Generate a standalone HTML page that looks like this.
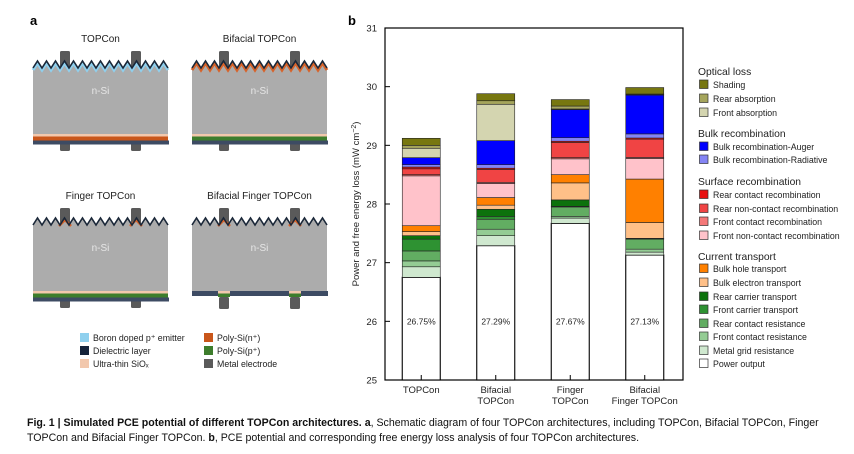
<!DOCTYPE html>
<html><head><meta charset="utf-8"><style>
html,body{margin:0;padding:0;background:#fff;width:854px;height:454px;overflow:hidden;font-family:"Liberation Sans",sans-serif}
svg{position:absolute;left:0;top:0}
.cap{position:absolute;left:27px;top:416px;width:820px;font-size:10.6px;line-height:15px;color:#111}
</style></head><body>
<svg id="fig" width="854" height="454" viewBox="0 0 854 454">
<g id="panelA"></g>
<g id="panelB"></g>
<g id="legendB"></g>
</svg>
<div class="cap"><b>Fig. 1 | Simulated PCE potential of different TOPCon architectures. a</b>, Schematic diagram of four TOPCon architectures, including TOPCon, Bifacial TOPCon, Finger TOPCon and Bifacial Finger TOPCon. <b>b</b>, PCE potential and corresponding free energy loss analysis of four TOPCon architectures.</div>
<script>
const NS="http://www.w3.org/2000/svg";
function mk(parent,tag,attrs,txt){const e=document.createElementNS(NS,tag);for(const k in attrs)e.setAttribute(k,attrs[k]);if(txt!==undefined)e.textContent=txt;parent.appendChild(e);return e;}

// ---------- Chart data ----------
const categories=["TOPCon","Bifacial\nTOPCon","Finger\nTOPCon","Bifacial\nFinger TOPCon"];
const powerOutput=[26.75,27.29,27.67,27.13];
const powerLabels=["26.75%","27.29%","27.67%","27.13%"];
const metalGrid=[0.18,0.17,0.09,0.05];
const frontContactRes=[0.10,0.11,0.03,0.05];
const rearContactRes=[0.17,0.17,0.16,0.17];
const frontCarrier=[0.20,0.05,0.01,0.005];
const rearCarrier=[0.06,0.12,0.11,0.01];
const bulkElectron=[0.07,0.07,0.29,0.27];
const bulkHole=[0.10,0.13,0.14,0.74];
const frontNonContactRec=[0.85,0.24,0.27,0.35];
const frontContactRec=[0.02,0.02,0.02,0.02];
const rearNonContactRec=[0.10,0.22,0.26,0.31];
const rearContactRec=[0.03,0.02,0.02,0.02];
const bulkRadiative=[0.04,0.06,0.06,0.07];
const bulkAuger=[0.12,0.41,0.48,0.66];
const frontAbsorption=[0.16,0.62,0.01,0.01];
const rearAbsorption=[0.05,0.06,0.05,0.01];
const shading=[0.12,0.12,0.11,0.11];
const yTicks=[25,26,27,28,29,30,31];

const series=[
 ["metal-grid-resistance",metalGrid,"#cfe8cf"],
 ["front-contact-resistance",frontContactRes,"#94cc94"],
 ["rear-contact-resistance",rearContactRes,"#62ad62"],
 ["front-carrier-transport",frontCarrier,"#2e9232"],
 ["rear-carrier-transport",rearCarrier,"#0c720c"],
 ["bulk-electron-transport",bulkElectron,"#ffc088"],
 ["bulk-hole-transport",bulkHole,"#ff8000"],
 ["front-non-contact-recombination",frontNonContactRec,"#ffc2ca"],
 ["front-contact-recombination",frontContactRec,"#f47878"],
 ["rear-non-contact-recombination",rearNonContactRec,"#f04444"],
 ["rear-contact-recombination",rearContactRec,"#e81010"],
 ["bulk-recombination-radiative",bulkRadiative,"#8484f4"],
 ["bulk-recombination-auger",bulkAuger,"#0000ff"],
 ["front-absorption",frontAbsorption,"#d4d5b0"],
 ["rear-absorption",rearAbsorption,"#a5a55c"],
 ["shading",shading,"#777710"]
];

const X0=385,X1=683,Y0=380,Y1=28,yMin=25,yMax=31;
const yS=v=>Y0-(v-yMin)/(yMax-yMin)*(Y0-Y1);
const xS=i=>X0+(X1-X0)*(i+0.5)/categories.length - 1;
const BW=38;

const B=document.getElementById('panelB');
mk(B,'text',{x:348,y:25,'font-size':13,'font-weight':'bold',fill:'#000'},'b');
const frame=mk(B,'rect',{x:X0,y:Y1,width:X1-X0,height:Y0-Y1,fill:'none',stroke:'#000','stroke-width':1.2});


yTicks.forEach(t=>{
 const y=yS(t);
 const l=mk(B,'line',{x1:X0,x2:X0+5,y1:y,y2:y,stroke:'#000','stroke-width':1});
 
 
 const tx=mk(B,'text',{x:X0-8,y:y+3.5,'font-size':9.5,'text-anchor':'end',fill:'#222'},String(t));
 
 
});
const yt=mk(B,'text',{x:0,y:0,'font-size':9.5,'text-anchor':'middle',fill:'#222',transform:'translate(359,204) rotate(-90)'});


yt.innerHTML='Power and free energy loss (mW cm<tspan dy="-3" font-size="7">−2</tspan><tspan dy="3">)</tspan>';

categories.forEach((c,i)=>{
 const cx=xS(i);
 const g=mk(B,'g',{});
 
 
 let base=yMin;
 const p=mk(g,'rect',{x:cx-BW/2,y:yS(powerOutput[i]),width:BW,height:yS(base)-yS(powerOutput[i]),fill:'#fff',stroke:'#000','stroke-width':1.1});
 
 
 base=powerOutput[i];
 series.forEach(s=>{
  const v=s[1][i];const top=base+v;
  const r=mk(g,'rect',{x:cx-BW/2,y:yS(top),width:BW,height:Math.max(0,yS(base)-yS(top)),fill:s[2],stroke:'#222','stroke-width':0.6});
  
  
  base=top;
 });
 const lbl=mk(g,'text',{x:cx,y:yS(26)+3,'font-size':8.5,'text-anchor':'middle',fill:'#222'},powerLabels[i]);
 
 
 const tk=mk(B,'line',{x1:cx,x2:cx,y1:Y0,y2:Y0-5,stroke:'#000'});
 
 
 c.split("\n").forEach((ln,k)=>{
  const t=mk(B,'text',{x:cx,y:393+k*11,'font-size':9.5,'text-anchor':'middle',fill:'#222'},ln);
  
  
 });
});

const L=document.getElementById('legendB');
const legendItems=[
 ["h","Optical loss",75],["s","Shading",88,"#777710"],["s","Rear absorption",102,"#a5a55c"],["s","Front absorption",116,"#d4d5b0"],
 ["h","Bulk recombination",137],["s","Bulk recombination-Auger",150,"#0000ff"],["s","Bulk recombination-Radiative",163,"#8484f4"],
 ["h","Surface recombination",185],["s","Rear contact recombination",198,"#e81010"],["s","Rear non-contact recombination",212,"#f04444"],["s","Front contact recombination",225,"#f47878"],["s","Front non-contact recombination",239,"#ffc2ca"],
 ["h","Current transport",260],["s","Bulk hole transport",272,"#ff8000"],["s","Bulk electron transport",286,"#ffc088"],["s","Rear carrier transport",300,"#0c720c"],["s","Front carrier transport",313,"#2e9232"],["s","Rear contact resistance",327,"#62ad62"],["s","Front contact resistance",340,"#94cc94"],["s","Metal grid resistance",354,"#cfe8cf"],["s","Power output",367,"#ffffff"]
];
legendItems.forEach(it=>{
 if(it[0]==="h"){
  const t=mk(L,'text',{x:698,y:it[2],'font-size':10.3,fill:'#222'},it[1]);
  
  
 } else {
  const g=mk(L,'g',{});
  
  
  mk(g,'rect',{x:699.5,y:it[2]-8,width:8.5,height:8.5,fill:it[3],stroke:'#333','stroke-width':0.7});
  mk(g,'text',{x:713,y:it[2],'font-size':8.8,fill:'#222'},it[1]);
 }
});

// ---------- Panel a ----------
const A=document.getElementById('panelA');
mk(A,'text',{x:30,y:25,'font-size':13,'font-weight':'bold',fill:'#000'},'a');
function zig(x0,x1,yTop,amp){let d="M"+x0+","+(yTop+amp);let x=x0,up=true;const step=4.5;while(x<x1){x=Math.min(x1,x+step);d+=" L"+x+","+(up?yTop:yTop+amp);up=!up;}return d;}
function cell(ox,oy,title,type){
 const g=mk(A,'g',{});
 
 
 const W=135;
 mk(g,'text',{x:ox+W/2,y:oy-12,'font-size':10,'text-anchor':'middle',fill:'#222'},title);
 const zt=oy+7, amp=7, bottom=oy+80;
 [ox+27,ox+98].forEach(ex=>mk(g,'rect',{x:ex,y:oy-3,width:10,height:16,rx:1.5,fill:'#5a5a5a'}));
 const z=zig(ox,ox+W,zt,amp);
 const topCol = type==='std' ? '#8fd0ee' : (type==='bif' ? '#d7632a' : null);
 mk(g,'path',{d:z+" L"+(ox+W)+","+bottom+" L"+ox+","+bottom+" Z",fill:'#acacac'});
 if(topCol) mk(g,'path',{d:z,fill:'none',stroke:topCol,'stroke-width':3,transform:'translate(0,2)'});
 else {[ox+32,ox+103].forEach(ex=>mk(g,'path',{d:"M"+(ex-6)+","+(zt+amp+1)+" L"+ex+","+(zt+2)+" L"+(ex+6)+","+(zt+amp+1),fill:'none',stroke:'#d7632a','stroke-width':2.5}));}
 mk(g,'path',{d:z,fill:'none',stroke:'#1a2738','stroke-width':1.6});
 mk(g,'text',{x:ox+W/2,y:oy+40,'font-size':10,'text-anchor':'middle',fill:'#e6e6e6'},'n-Si');
 const polyCol = type==='std' ? '#c9561a' : '#3d7d2c';
 if(type==='bff'){
  mk(g,'rect',{x:ox,y:bottom,width:W+1,height:5,fill:'#3d4b63'});
  [ox+27,ox+98].forEach(ex=>{mk(g,'rect',{x:ex,y:bottom+6,width:10,height:12,rx:1.5,fill:'#5a5a5a'});mk(g,'rect',{x:ex-1,y:bottom,width:12,height:2.5,fill:'#f2c8ad'});mk(g,'rect',{x:ex-1,y:bottom+2.5,width:12,height:3.5,fill:'#3d7d2c'});});
 } else {
  [ox+27,ox+98].forEach(ex=>mk(g,'rect',{x:ex,y:bottom+8,width:10,height:9,rx:1.5,fill:'#5a5a5a'}));
  mk(g,'rect',{x:ox,y:bottom,width:W,height:2.5,fill:'#f2c8ad'});
  mk(g,'rect',{x:ox,y:bottom+2.5,width:W,height:4,fill:polyCol});
  mk(g,'rect',{x:ox,y:bottom+6.5,width:W+1,height:4,fill:'#3d4b63'});
 }
}
cell(33,54,'TOPCon','std');
cell(192,54,'Bifacial TOPCon','bif');
cell(33,211,'Finger TOPCon','fin');
cell(192,211,'Bifacial Finger TOPCon','bff');

const la=[["Boron doped p⁺ emitter","#8fd0ee",80,341],["Dielectric layer","#14233a",80,354],["Ultra-thin SiOₓ","#f2c8ad",80,367],["Poly-Si(n⁺)","#c9561a",204,341],["Poly-Si(p⁺)","#3d7d2c",204,354],["Metal electrode","#5a5a5a",204,367]];
la.forEach(e=>{
 const g=mk(A,'g',{});
 
 
 mk(g,'rect',{x:e[2],y:e[3]-8,width:9,height:9,fill:e[1]});
 mk(g,'text',{x:e[2]+13,y:e[3],'font-size':8.8,fill:'#222'},e[0]);
});
</script>
</body></html>
